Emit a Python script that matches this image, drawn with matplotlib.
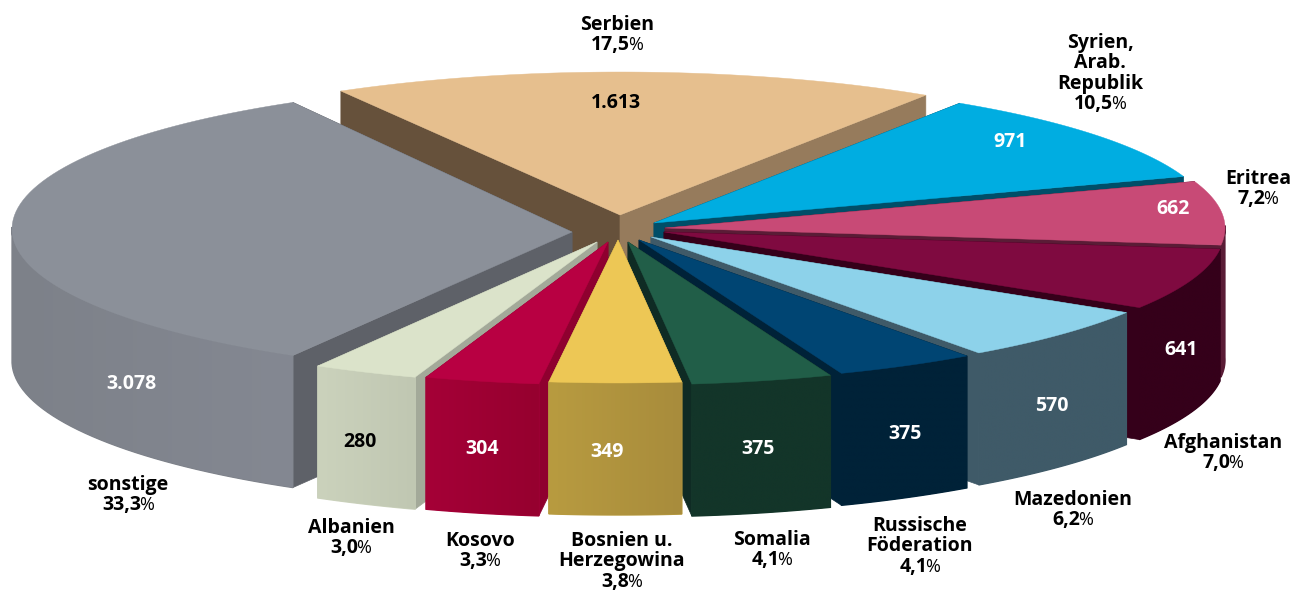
import numpy as np
import matplotlib
matplotlib.use('Agg')
import matplotlib.pyplot as plt
from matplotlib.colors import to_rgb, LinearSegmentedColormap
from matplotlib.patches import Polygon

# Data, in drawing order round the pie (clockwise from Serbien)
names = ['Serbien', 'Syrien,\nArab.\nRepublik', 'Eritrea', 'Afghanistan', 'Mazedonien',
         'Russische\nFöderation', 'Somalia', 'Bosnien u.\nHerzegowina', 'Kosovo', 'Albanien', 'sonstige']
counts = [1613, 971, 662, 641, 570, 375, 375, 349, 304, 280, 3078]
percents = [17.5, 10.5, 7.2, 7.0, 6.2, 4.1, 4.1, 3.8, 3.3, 3.0, 33.3]

# Slice styles
top_cols = ['#e6bf8e', '#00ade1', '#c84a76', '#7f0a40', '#8dd2ea', '#004573',
            '#215e48', '#edc755', '#b80042', '#dbe3ca', '#8b9099']
wall_left = ['#967b5c', '#004e68', '#5a1c36', '#35001a', '#3f5a68', '#002238',
             '#133529', '#b89b40', '#a50037', '#cbd2bc', '#7d8189']
wall_right = ['#967b5c', '#004e68', '#5a1c36', '#35001a', '#3f5a68', '#002238',
              '#133529', '#a88c3c', '#96002f', '#c0c7b2', '#848892']
cut_first = ['#967b5c', '#004e68', '#5a1c36', '#35001a', '#3f5a68', '#002238',
             '#0f2b24', '#b89b40', '#8f002f', '#a3a999', '#5e6168']
cut_last = ['#66513b', '#004e68', '#5a1c36', '#35001a', '#3f5a68', '#002238',
            '#0f2b24', '#b89b40', '#8f002f', '#a3a999', '#5e6168']
text_cols = ['black', 'white', 'white', 'white', 'white', 'white',
             'white', 'white', 'white', 'black', 'white']

# Pixel-like canvas and pie geometry
W, H = 1293, 590
cx, cy = 620, 235
rx = 560
ry_each = [143] * 10 + [146]
depth = 132
explode = [(0, -20), (34, -12), (45, -7), (44, -3), (31, 2), (19, 5),
           (8, 7), (-2, 5), (-12, 7), (-23, 7), (-48, -6)]
apex_dy = [0] * 10 + [3]
val_pos = [(616, 103), (1010, 142), (1173, 209), (1181, 350), (1052, 406), (905, 434),
           (758, 449), (607, 452), (482, 449), (360, 442), (131, 384)]
lab_pos = [(617, 25), (1100, 43), (1258, 179), (1223, 443), (1073, 500), (920, 526),
           (772, 540), (622, 541), (480, 541), (351, 528), (128, 485)]
line_step = 20.4
draw_order = [0, 1, 2, 3, 4, 5, 6, 10, 9, 8, 7]

plt.rcParams['font.family'] = ['Open Sans', 'DejaVu Sans']
fig = plt.figure(figsize=(W / 100, H / 100), dpi=100)
ax = fig.add_axes([0, 0, 1, 1])

# Angles come from the counts; sonstige is centred on the left
total = sum(counts)
sweeps = [c / total * 360 for c in counts]
edges = [180 - sweeps[-1] / 2]
for s in sweeps:
    edges.append(edges[-1] - s)


def arc(x0, y0, a1, a2, ry, n=80):
    t = np.radians(np.linspace(a1, a2, n))
    return x0 + rx * np.cos(t), y0 - ry * np.sin(t)


z = 1
for i in draw_order:
    a1 = edges[i]
    a2 = a1 - sweeps[i]
    x0 = cx + explode[i][0]
    y0 = cy + explode[i][1]
    ay = y0 + apex_dy[i]
    x, y = arc(x0, y0, a1, a2, ry_each[i])

    # cut faces
    ax.fill([x0, x[0], x[0], x0], [ay, y[0], y[0] + depth, ay + depth], color=cut_last[i], lw=0.5, zorder=z)
    ax.fill([x0, x[-1], x[-1], x0], [ay, y[-1], y[-1] + depth, ay + depth], color=cut_first[i], lw=0.5, zorder=z + 1)

    # outer wall: gradient image clipped to the visible front part of the arc
    front = np.sin(np.radians(np.linspace(a1, a2, len(x)))) <= 0.02
    if front.any():
        fx, fy = x[front], y[front]
        outline = np.c_[np.r_[fx, fx[::-1]], np.r_[fy, fy[::-1] + depth]]
        # solid backing closes the seam between wall and cut face
        ax.fill(outline[:, 0], outline[:, 1], color=wall_left[i], lw=1, zorder=z + 1)
        cmap = LinearSegmentedColormap.from_list('wall', [to_rgb(wall_left[i]), to_rgb(wall_right[i])])
        im = ax.imshow(np.linspace(0, 1, 256).reshape(1, -1), cmap=cmap, aspect='auto', zorder=z + 2,
                       extent=(fx.min(), fx.max(), fy.max() + depth, fy.min()), interpolation='bilinear')
        clip = Polygon(outline, closed=True, transform=ax.transData, fc='none', ec='none')
        ax.add_patch(clip)
        im.set_clip_path(clip)

    # top face
    ax.fill(np.r_[x0, x], np.r_[ay, y], color=top_cols[i], lw=0.3, zorder=z + 3)
    z += 4

ax.set_xlim(0, W)
ax.set_ylim(H, 0)
ax.axis('off')
renderer = fig.canvas.get_renderer()


def text_width(t):
    return t.get_window_extent(renderer).width


for i in range(len(names)):
    vx, vy = val_pos[i]
    ax.text(vx, vy, f'{counts[i]:,}'.replace(',', '.'), color=text_cols[i], fontsize=14,
            fontweight='bold', ha='center', va='center', zorder=z)
    lines = names[i].split('\n')
    lx, ly = lab_pos[i]
    for k, line in enumerate(lines):
        ax.text(lx, ly + k * line_step, line, color='black', fontsize=14, fontweight='bold',
                ha='center', va='center', zorder=z)
    # number in bold, percent sign lighter, centred together
    py = ly + len(lines) * line_step
    num = ax.text(lx, py, f'{percents[i]:.1f}'.replace('.', ','), color='black', fontsize=14,
                  fontweight='bold', ha='right', va='center', zorder=z)
    pct = ax.text(lx, py, '%', color='black', fontsize=13, ha='left', va='center', zorder=z)
    wn, wp = text_width(num), text_width(pct)
    num.set_x(lx + (wn - wp) / 2 + 1)
    pct.set_x(lx + (wn - wp) / 2 - 1)

fig.savefig('out.png', dpi=100, facecolor='white')
